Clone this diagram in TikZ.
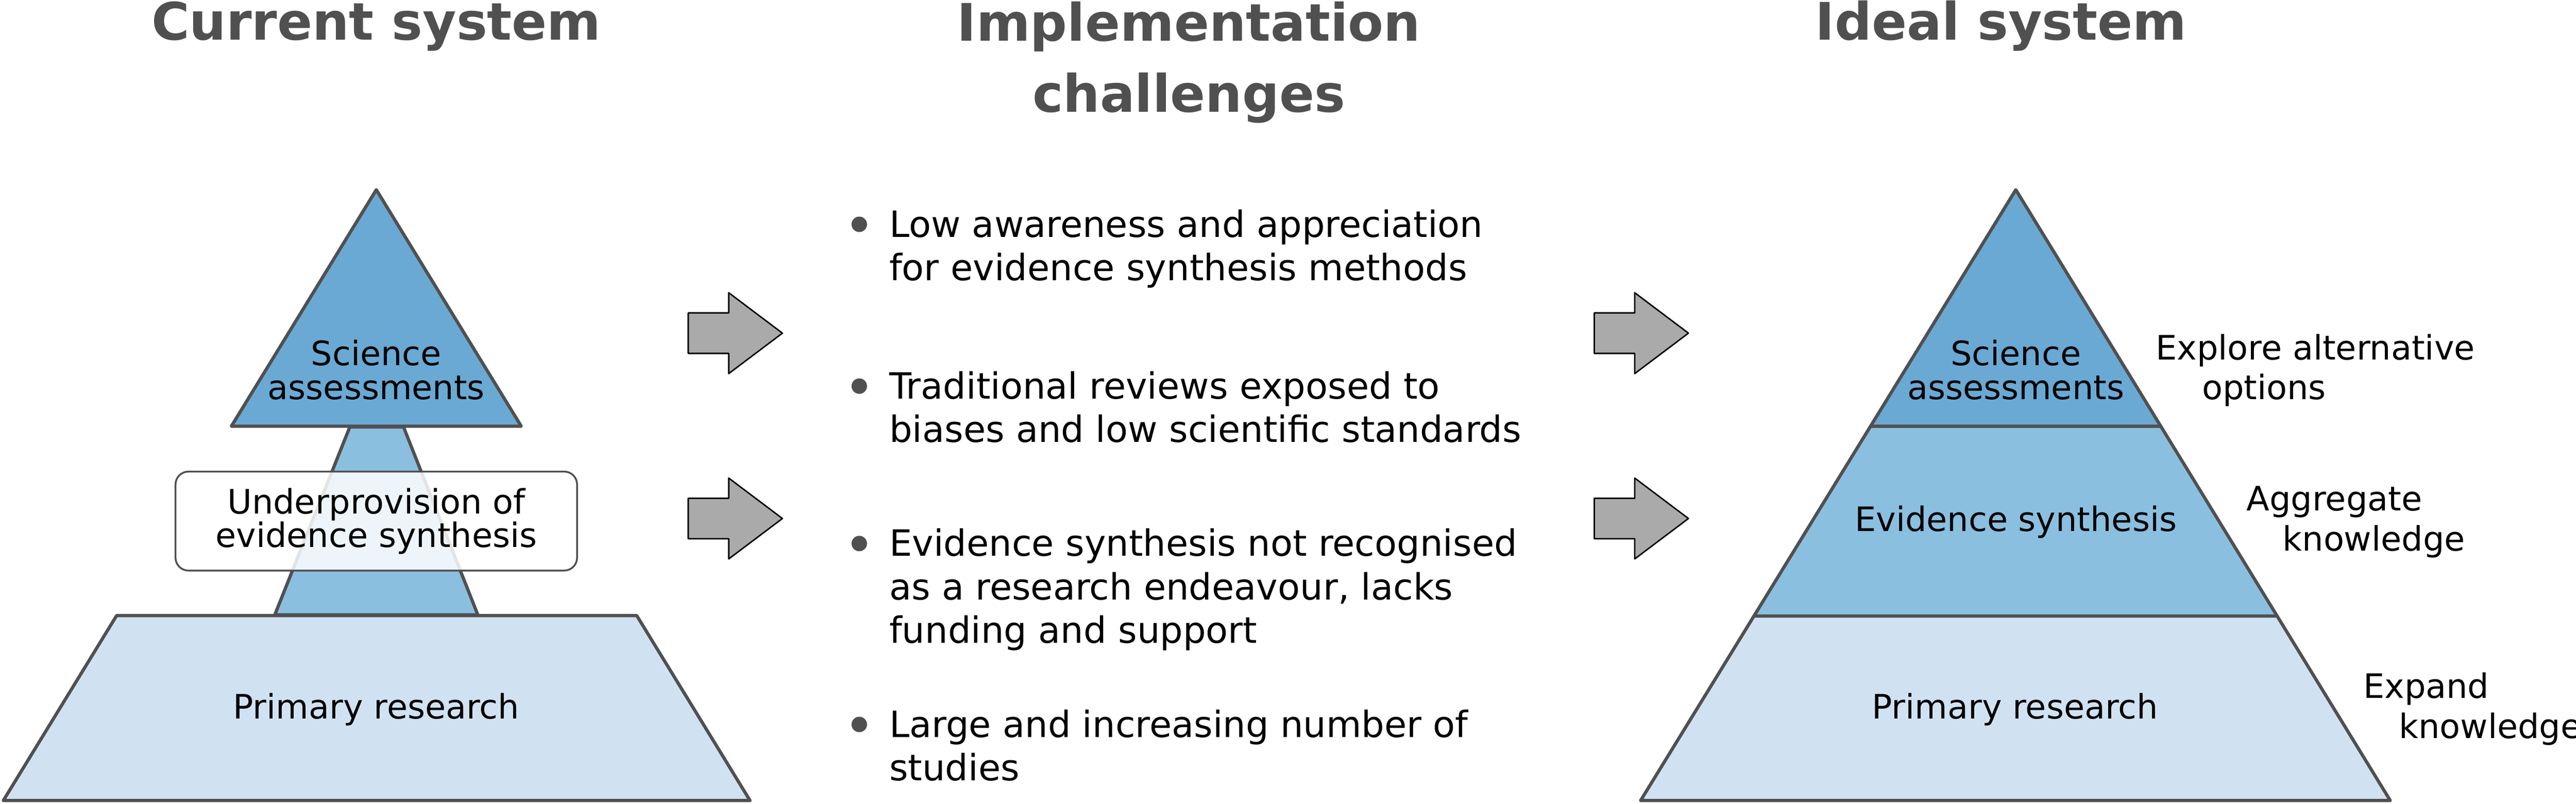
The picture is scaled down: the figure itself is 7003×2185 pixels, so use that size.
\documentclass[tikz,border=0pt]{standalone}
\usepackage{fontspec}
\setmainfont{DejaVu Sans}
\usetikzlibrary{positioning,calc}
\definecolor{edgegray}{RGB}{80,80,80}
\definecolor{tiertop}{RGB}{106,169,211}
\definecolor{tiermid}{RGB}{139,191,223}
\definecolor{tierbase}{RGB}{208,226,242}
\definecolor{arrowgray}{RGB}{170,170,170}

\begin{document}
\begin{tikzpicture}[x=0.01cm,y=0.01cm,line join=round,
  tier/.style={draw=edgegray,line width=2.5pt},
  tier text/.style={inner sep=0pt,align=center,font=\fontsize{26}{26}\selectfont},
  heading/.style={inner sep=0pt,align=center,text=edgegray,font=\fontsize{40}{55}\selectfont\bfseries},
  item/.style={inner sep=0pt,align=left,anchor=north west,font=\fontsize{28}{33.6}\selectfont},
  aside/.style={inner sep=0pt,align=left,anchor=north west,font=\fontsize{26}{30.7}\selectfont},
  dot/.style={circle,fill=edgegray,inner sep=0pt,minimum size=0.42cm},
  block arrow/.style={draw=black,fill=arrowgray,line width=1.1pt}]

  \useasboundingbox (0,0) rectangle (7003,2185);

  % current system
  \node[heading,anchor=base] (current) at (1023,2076) {Current system};
  \coordinate (C-apex) at (1023,1669);
  \draw[tier,fill=tiermid] (951,1024) -- (1097,1024) -- (1299,513) -- (747,513) -- cycle;
  \draw[tier,fill=tiertop] (C-apex) -- (1417,1026) -- (629,1026) -- cycle;
  \draw[tier,fill=tierbase] (317,511) -- (1731,511) -- (2039,8) -- (9,8) -- cycle;
  \node[tier text,anchor=north] (C-sci) at (1023,1261) {Science\\assessments};
  \node[tier text,anchor=base] (C-prim) at (1023,230) {Primary research};
  \node[draw=edgegray,line width=1.4pt,rounded corners=0.35cm,fill=white,fill opacity=0.85,text opacity=1,
        minimum width=10.91cm,minimum height=2.69cm,align=center,font=\fontsize{26}{26}\selectfont]
        (gap) at (1023,768) {Underprovision of\\evidence synthesis};

  \draw[block arrow] (1871,1334) -- ++(110,0) -- ++(0,55) -- ++(146,-110) -- ++(-146,-110) -- ++(0,55) -- ++(-110,0) -- cycle;
  \draw[block arrow] (1871,830) -- ++(110,0) -- ++(0,55) -- ++(146,-110) -- ++(-146,-110) -- ++(0,55) -- ++(-110,0) -- cycle;

  % challenges
  \node[heading,anchor=north] (challenges) at (3232,2181) {Implementation\\challenges};
  \node[item] (l1) at (2417,1616) {Low awareness and appreciation\\for evidence synthesis methods};
  \node[item] (l2) at (2417,1176) {Traditional reviews exposed to\\biases and low scientific standards};
  \node[item] (l3) at (2417,748) {Evidence synthesis not recognised\\as a research endeavour, lacks\\funding and support};
  \node[item] (l4) at (2417,256) {Large and increasing number of\\studies};
  \node[dot,below left=0.41cm and 0.81cm of l1.north west,anchor=center] (d1) {};
  \node[dot,below left=0.41cm and 0.81cm of l2.north west,anchor=center] (d2) {};
  \node[dot,below left=0.41cm and 0.81cm of l3.north west,anchor=center] (d3) {};
  \node[dot,below left=0.41cm and 0.81cm of l4.north west,anchor=center] (d4) {};

  \draw[block arrow] (4334,1334) -- ++(110,0) -- ++(0,55) -- ++(146,-110) -- ++(-146,-110) -- ++(0,55) -- ++(-110,0) -- cycle;
  \draw[block arrow] (4334,830) -- ++(110,0) -- ++(0,55) -- ++(146,-110) -- ++(-146,-110) -- ++(0,55) -- ++(-110,0) -- cycle;

  % ideal system
  \node[heading,anchor=base] (ideal) at (5440,2076) {Ideal system};
  \coordinate (I-apex) at (5480,1669);
  \coordinate (I-bl) at (4460,8);
  \coordinate (I-br) at (6498,8);
  \draw[tier,fill=tierbase] ($(I-apex)!0.6978!(I-bl)$) -- ($(I-apex)!0.6978!(I-br)$) -- (I-br) -- (I-bl) -- cycle;
  \draw[tier,fill=tiermid] ($(I-apex)!0.3871!(I-bl)$) -- ($(I-apex)!0.3871!(I-br)$) -- ($(I-apex)!0.6978!(I-br)$) -- ($(I-apex)!0.6978!(I-bl)$) -- cycle;
  \draw[tier,fill=tiertop] (I-apex) -- ($(I-apex)!0.3871!(I-br)$) -- ($(I-apex)!0.3871!(I-bl)$) -- cycle;
  \node[tier text,anchor=north] (I-sci) at (5480,1261) {Science\\assessments};
  \node[tier text,anchor=base] (I-syn) at (5480,740) {Evidence synthesis};
  \node[tier text,anchor=base] (I-prim) at (5478,230) {Primary research};
  \node[aside] (explore) at (5860,1277) {Explore alternative\\\hspace*{1.26cm}options};
  \node[aside] (aggregate) at (6107,863) {Aggregate\\\hspace*{0.98cm}knowledge};
  \node[aside] (expand) at (6424,356) {Expand\\\hspace*{0.97cm}knowledge};
\end{tikzpicture}
\end{document}
